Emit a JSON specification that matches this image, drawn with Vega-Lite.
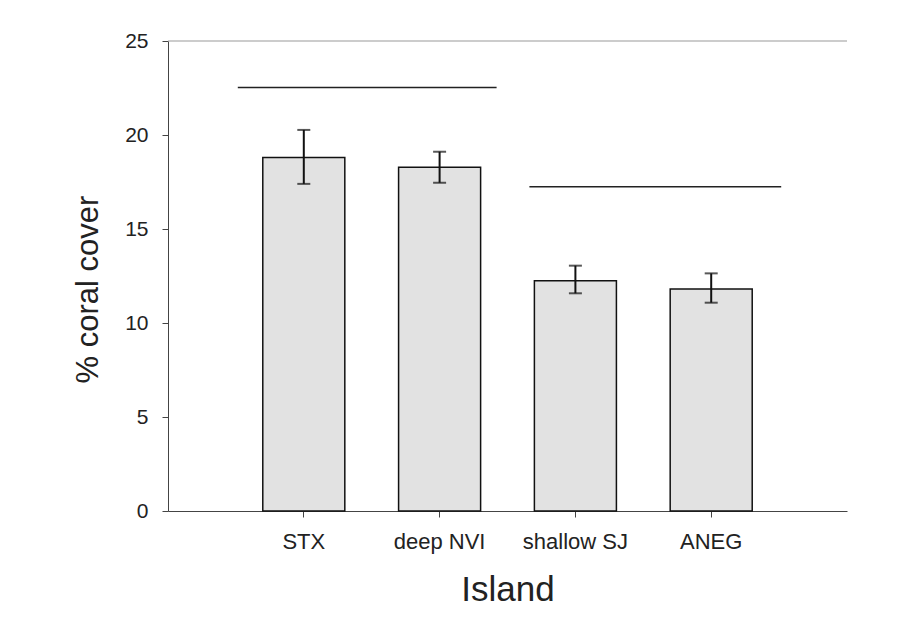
{
  "$schema": "https://vega.github.io/schema/vega-lite/v6.json",
  "width": 679,
  "height": 470,
  "autosize": "none",
  "padding": {"left": 168, "top": 41, "right": 63, "bottom": 113},
  "background": "white",
  "config": {
    "view": {"stroke": null},
    "font": "Liberation Sans",
    "axis": {
      "labelFont": "Liberation Sans",
      "titleFont": "Liberation Sans",
      "labelColor": "#222",
      "titleColor": "#222",
      "titleFontWeight": "normal",
      "domainColor": "#444",
      "tickColor": "#444",
      "grid": false
    }
  },
  "datasets": {
    "bars": [
      {"island": "STX", "cover": 18.8, "lo": 17.4, "hi": 20.27},
      {"island": "deep NVI", "cover": 18.28, "lo": 17.46, "hi": 19.11},
      {"island": "shallow SJ", "cover": 12.25, "lo": 11.58, "hi": 13.05},
      {"island": "ANEG", "cover": 11.81, "lo": 11.08, "hi": 12.64}
    ]
  },
  "layer": [
    {
      "data": {"values": [{"top": 25}]},
      "mark": {"type": "rule", "color": "#999", "strokeWidth": 1},
      "encoding": {"y": {"field": "top", "type": "quantitative", "scale": {"domain": [0, 25]}}}
    },
    {
      "data": {"name": "bars"},
      "mark": {"type": "bar", "fill": "#e2e2e2", "stroke": "#111", "strokeWidth": 1.5},
      "encoding": {
        "x": {
          "field": "island", "type": "nominal", "sort": null,
          "scale": {"domain": ["STX", "deep NVI", "shallow SJ", "ANEG"], "paddingInner": 0.396, "paddingOuter": 0.698},
          "axis": {
            "title": "Island", "titleFontSize": 35, "titlePadding": 20,
            "labelFontSize": 22, "labelAngle": 0, "labelPadding": 14, "tickSize": 6,
            "domainWidth": 1, "tickWidth": 1
          }
        },
        "y": {
          "field": "cover", "type": "quantitative",
          "scale": {"domain": [0, 25], "nice": false},
          "axis": {
            "title": "% coral cover", "titleFontSize": 31, "titlePadding": 20, "titleY": 248,
            "values": [0, 5, 10, 15, 20, 25],
            "labelFontSize": 21, "labelPadding": 14, "tickSize": 6,
            "domainWidth": 1, "tickWidth": 1
          }
        }
      }
    },
    {
      "data": {"name": "bars"},
      "mark": {"type": "rule", "color": "#111", "strokeWidth": 2},
      "encoding": {
        "x": {"field": "island", "type": "nominal", "sort": null},
        "y": {"field": "lo", "type": "quantitative"},
        "y2": {"field": "hi"}
      }
    },
    {
      "data": {"name": "bars"},
      "mark": {"type": "tick", "color": "#111", "size": 13, "thickness": 2},
      "encoding": {
        "x": {"field": "island", "type": "nominal", "sort": null},
        "y": {"field": "hi", "type": "quantitative"}
      }
    },
    {
      "data": {"name": "bars"},
      "mark": {"type": "tick", "color": "#111", "size": 13, "thickness": 2},
      "encoding": {
        "x": {"field": "island", "type": "nominal", "sort": null},
        "y": {"field": "lo", "type": "quantitative"}
      }
    },
    {
      "data": {"values": [{"from": "STX", "to": "deep NVI", "level": 22.52}]},
      "mark": {"type": "rule", "color": "#222", "strokeWidth": 1.5, "xOffset": -66, "x2Offset": 57},
      "encoding": {
        "x": {"field": "from", "type": "nominal"},
        "x2": {"field": "to"},
        "y": {"field": "level", "type": "quantitative"}
      }
    },
    {
      "data": {"values": [{"from": "shallow SJ", "to": "ANEG", "level": 17.25}]},
      "mark": {"type": "rule", "color": "#222", "strokeWidth": 1.5, "xOffset": -46, "x2Offset": 70},
      "encoding": {
        "x": {"field": "from", "type": "nominal"},
        "x2": {"field": "to"},
        "y": {"field": "level", "type": "quantitative"}
      }
    }
  ]
}
